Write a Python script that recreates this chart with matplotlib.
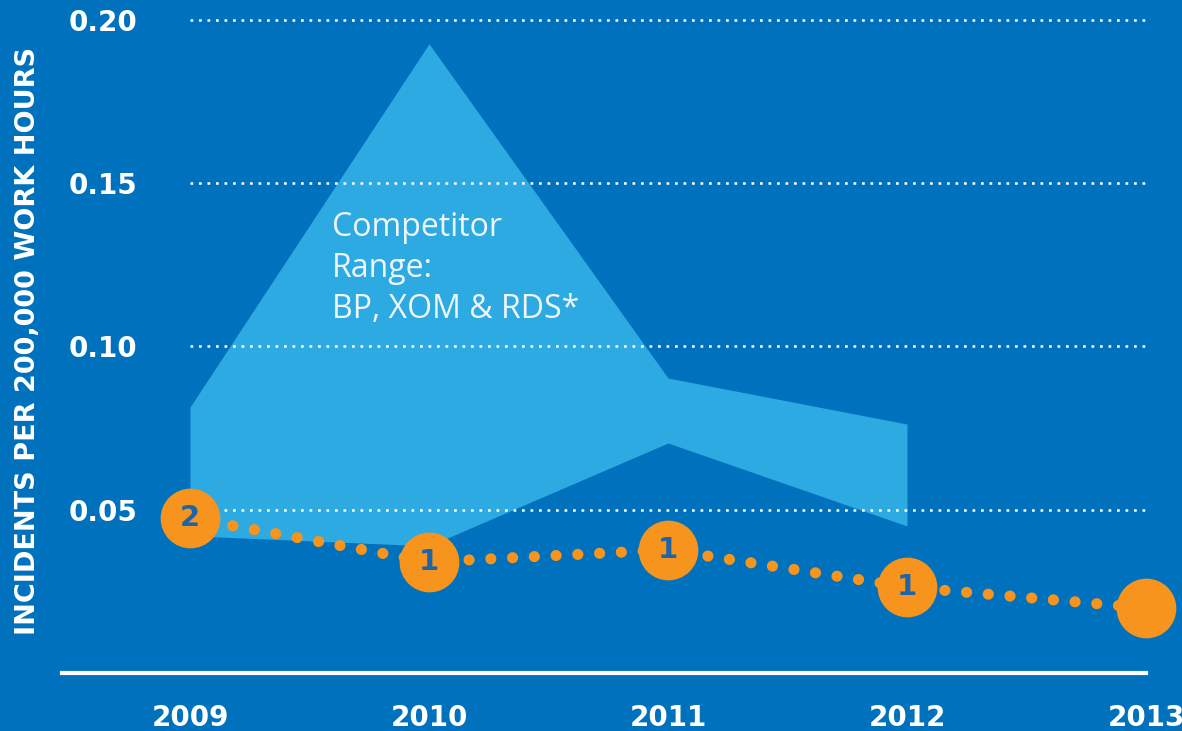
import matplotlib
matplotlib.use("Agg")
import matplotlib.pyplot as plt

# ---- data ----
years = [2009, 2010, 2011, 2012, 2013]
year_labels = ["2009", "2010", "2011", "2012", "2013"]
rate = [0.0475, 0.0340, 0.0377, 0.0263, 0.0199]
incidents = ["2", "1", "1", "1", ""]

band_years = [2009, 2010, 2011, 2012]
band_low = [0.0420, 0.0389, 0.0704, 0.0450]
band_high = [0.0814, 0.1926, 0.0903, 0.0762]

yticks = [0.05, 0.10, 0.15, 0.20]
ytick_labels = ["0.05", "0.10", "0.15", "0.20"]

band_text = "Competitor\nRange:\nBP, XOM & RDS*"
ylabel = "INCIDENTS PER 200,000 WORK HOURS"

# ---- style ----
BG = "#0071BC"
BAND = "#2EAAE2"
ORANGE = "#F7941D"
NUMCOL = "#1F64A6"
W = 1182
H = 731

fig = plt.figure(figsize=(W / 100, H / 100), dpi=100, facecolor=BG)
ax = fig.add_axes([62 / W, 58 / H, 1 - 62 / W, 1 - 58 / H])
ax.set_facecolor(BG)

x_left = 2009 - 128 / 239
x_right = 2013 + 36 / 239
ax.set_xlim(x_left, x_right)
ax.set_ylim(0, 0.206)

# band
ax.fill_between(band_years, band_low, band_high, color=BAND, lw=0, zorder=1)

# gridlines
ax.hlines(yticks, years[0], years[-1], colors="white", lw=1.8,
          linestyles=(0, (1.1, 2.3)), zorder=2)

# dotted connector
ax.plot(years, rate, color=ORANGE, lw=8, linestyle=(0, (0.01, 1.95)),
        dash_capstyle="round", zorder=3)
# circles
ax.plot(years, rate, linestyle="none", marker="o", markersize=43,
        markerfacecolor=ORANGE, markeredgecolor="none", zorder=4)
for x, y, t in zip(years, rate, incidents):
    ax.text(x, y, t, ha="center", va="center", fontsize=21,
            fontweight="bold", color=NUMCOL, family="DejaVu Sans", zorder=5)

# annotation
ax.text(2009 + 142 / 239, 0.1415, band_text, ha="left", va="top",
        fontsize=23, color="#EEF6FC", family="Open Sans", linespacing=1.32,
        zorder=5)

# spines
for s in ["top", "right", "left"]:
    ax.spines[s].set_visible(False)
ax.spines["bottom"].set_color("white")
ax.spines["bottom"].set_linewidth(3)
ax.spines["bottom"].set_bounds(x_left, years[-1])

# ticks
ax.set_xticks(years)
ax.set_xticklabels(year_labels)
ax.tick_params(axis="x", length=0, pad=22, labelsize=20, labelcolor="white")
ax.set_yticks(yticks)
ax.set_yticklabels(ytick_labels)
ax.tick_params(axis="y", length=0, pad=-4.5, labelsize=20, labelcolor="white")
for lab in ax.get_yticklabels():
    lab.set_ha("left")
    lab.set_fontweight("heavy")
for lab in ax.get_xticklabels():
    lab.set_fontweight("heavy")

fig.text(28 / W, 1 - 341 / H, ylabel, rotation=90, ha="center", va="center",
         fontsize=19.5, fontweight="heavy", color="white")

fig.savefig("out.png", dpi=100, facecolor=BG)
